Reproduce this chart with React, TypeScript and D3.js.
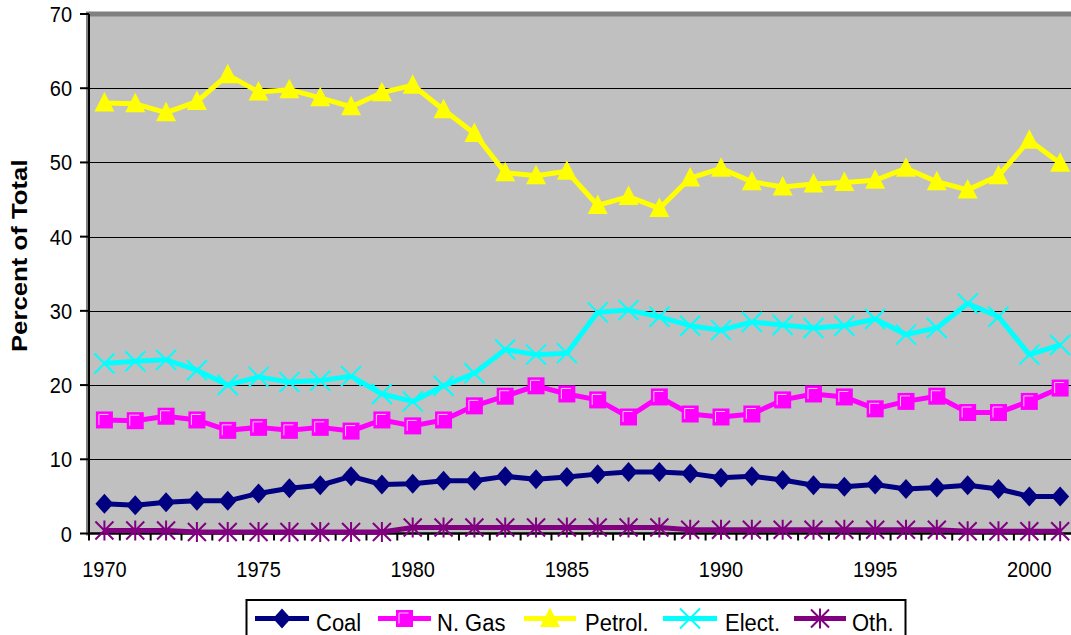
import React from "react";
import * as d3 from "d3";

// Share of total energy use by source, 1970–2001 (percent)
const years = [
  "1970", "1971", "1972", "1973", "1974", "1975", "1976", "1977", "1978", "1979",
  "1980", "1981", "1982", "1983", "1984", "1985", "1986", "1987", "1988", "1989",
  "1990", "1991", "1992", "1993", "1994", "1995", "1996", "1997", "1998", "1999",
  "2000", "2001",
];
const labeledYears = ["1970", "1975", "1980", "1985", "1990", "1995", "2000"];
const yTicks = [0, 10, 20, 30, 40, 50, 60, 70];

const coal = [4.0, 3.8, 4.2, 4.4, 4.4, 5.4, 6.1, 6.5, 7.7, 6.6, 6.7, 7.1, 7.1, 7.7, 7.3, 7.6, 8.0, 8.3, 8.3, 8.1, 7.5, 7.7, 7.2, 6.5, 6.3, 6.6, 6.0, 6.2, 6.5, 6.0, 5.0, 5.0];
const gas = [15.3, 15.2, 15.8, 15.3, 13.9, 14.3, 13.9, 14.3, 13.8, 15.3, 14.5, 15.3, 17.2, 18.5, 19.9, 18.8, 18.0, 15.7, 18.4, 16.1, 15.7, 16.1, 18.0, 18.8, 18.4, 16.8, 17.8, 18.5, 16.3, 16.3, 17.8, 19.6];
const petrol = [58.0, 57.9, 56.7, 58.2, 61.8, 59.5, 59.8, 58.7, 57.5, 59.4, 60.4, 57.1, 53.9, 48.6, 48.2, 48.8, 44.2, 45.4, 43.8, 47.9, 49.2, 47.4, 46.7, 47.1, 47.3, 47.6, 49.2, 47.4, 46.3, 48.2, 53.0, 49.9];
const elect = [22.9, 23.2, 23.4, 22.0, 20.0, 21.1, 20.4, 20.6, 21.2, 18.8, 17.8, 19.9, 21.6, 24.8, 24.1, 24.3, 29.8, 30.1, 29.2, 28.0, 27.4, 28.5, 28.1, 27.7, 28.0, 28.9, 26.8, 27.7, 31.0, 29.2, 24.1, 25.4];
const other = [0.4, 0.4, 0.4, 0.2, 0.2, 0.2, 0.2, 0.2, 0.2, 0.2, 0.8, 0.8, 0.8, 0.8, 0.8, 0.8, 0.8, 0.8, 0.8, 0.5, 0.5, 0.5, 0.5, 0.5, 0.5, 0.5, 0.5, 0.5, 0.3, 0.3, 0.3, 0.3];

type MarkerKind = "diamond" | "square" | "triangle" | "cross" | "star";
const seriesNames = ["Coal", "N. Gas", "Petrol.", "Elect.", "Oth."];
const seriesValues = [coal, gas, petrol, elect, other];
const seriesColors = ["#000080", "#FF00FF", "#FFFF00", "#00FFFF", "#800080"];
const seriesMarkers: MarkerKind[] = ["diamond", "square", "triangle", "cross", "star"];

const W = 1071;
const H = 635;
const FONT = "'Liberation Sans', Arial, Helvetica, sans-serif";
const STRETCH = 1.12; // text is drawn slightly taller than wide

const plotLeft = 89;
const plotTop = 14;
const plotBottom = 533.5;
const band = 30.83;

const x = d3
  .scaleBand<string>()
  .domain(years)
  .range([plotLeft, plotLeft + band * years.length])
  .padding(0);
const cx = (yr: string) => (x(yr) as number) + x.bandwidth() / 2;
const y = d3.scaleLinear().domain([0, 70]).range([plotBottom, plotTop]);

function Marker({ kind, color, px, py }: { kind: MarkerKind; color: string; px: number; py: number }) {
  const t = `translate(${px},${py})`;
  switch (kind) {
    case "diamond":
      return <path transform={t} d="M0,-10 L9,0 L0,10 L-9,0 Z" fill={color} />;
    case "square":
      return (
        <g transform={t}>
          <rect x={-8.5} y={-8.5} width={17} height={17} fill={color} />
          <path d="M-5.5,5 V-5.5 H4" fill="none" stroke="#FFC8FF" strokeWidth={1} />
        </g>
      );
    case "triangle":
      return <path transform={t} d="M0,-11 L10,8.5 L-10,8.5 Z" fill={color} />;
    case "cross":
      return (
        <path transform={t} d="M-10,-10 L10,10 M-10,10 L10,-10" stroke={color} strokeWidth={2} fill="none" />
      );
    case "star":
      return (
        <path
          transform={t}
          d="M-9,-9 L9,9 M-9,9 L9,-9 M0,-10 L0,10"
          stroke={color}
          strokeWidth={2}
          fill="none"
        />
      );
  }
}

function Label({
  x: tx,
  y: ty,
  size,
  anchor,
  children,
}: {
  x: number;
  y: number;
  size: number;
  anchor?: "start" | "middle" | "end";
  children: React.ReactNode;
}) {
  return (
    <text
      transform={`translate(${tx},${ty}) scale(1,${STRETCH})`}
      textAnchor={anchor ?? "start"}
      fontSize={size}
      fill="#000"
    >
      {children}
    </text>
  );
}

export default function App() {
  const line = d3
    .line<number>()
    .x((_, i) => cx(years[i]))
    .y((v) => y(v));

  const plotRight = W + 20;

  // legend geometry
  const legend = [
    { x1: 255, x2: 309, tx: 316 },
    { x1: 378, x2: 431, tx: 437 },
    { x1: 524, x2: 576, tx: 585 },
    { x1: 663, x2: 717, tx: 725 },
    { x1: 794, x2: 846, tx: 852 },
  ];
  const legendY = 618.5;

  return (
    <svg
      width={W}
      height={H}
      viewBox={`0 0 ${W} ${H}`}
      style={{ position: "absolute", left: 0, top: 0, background: "#FFFFFF", overflow: "hidden" }}
      fontFamily={FONT}
    >
      {/* plot area */}
      <rect x={plotLeft} y={plotTop} width={plotRight - plotLeft} height={plotBottom - plotTop} fill="#C0C0C0" />
      <line x1={plotLeft} x2={plotRight} y1={plotTop} y2={plotTop} stroke="#808080" strokeWidth={5} />
      <line x1={plotLeft - 1} x2={plotLeft - 1} y1={plotTop - 2.5} y2={plotBottom + 2} stroke="#808080" strokeWidth={4} />

      {/* horizontal gridlines */}
      {yTicks
        .filter((v) => v > 0 && v < 70)
        .map((v) => (
          <line key={v} x1={plotLeft} x2={plotRight} y1={Math.round(y(v)) + 0.5} y2={Math.round(y(v)) + 0.5} stroke="#000" strokeWidth={1} />
        ))}

      {/* value axis */}
      <line x1={plotLeft} x2={plotLeft} y1={plotTop} y2={plotBottom + 1} stroke="#000" strokeWidth={2} />
      {yTicks.map((v) => (
        <g key={v}>
          <line x1={plotLeft - 9} x2={plotLeft} y1={y(v)} y2={y(v)} stroke="#000" strokeWidth={2} />
          <Label x={72} y={y(v) + 8} size={20} anchor="end">
            {v}
          </Label>
        </g>
      ))}
      <text
        transform={`translate(27,${(plotTop + plotBottom) / 2 - 18}) rotate(-90) scale(${STRETCH},1)`}
        textAnchor="middle"
        fontSize={23}
        fontWeight="bold"
        fill="#000"
      >
        Percent of Total
      </text>

      {/* category axis */}
      <line x1={plotLeft - 1} x2={plotRight} y1={plotBottom} y2={plotBottom} stroke="#000" strokeWidth={2.5} />
      {years.map((yr) => (
        <line
          key={yr}
          x1={x(yr) as number}
          x2={x(yr) as number}
          y1={plotBottom}
          y2={plotBottom + 7}
          stroke="#000"
          strokeWidth={2}
        />
      ))}
      {labeledYears.map((yr) => (
        <Label key={yr} x={cx(yr)} y={577} size={20} anchor="middle">
          {yr}
        </Label>
      ))}

      {/* series */}
      {seriesValues.map((vals, si) => (
        <g key={seriesNames[si]}>
          <path d={line(vals) ?? ""} fill="none" stroke={seriesColors[si]} strokeWidth={5} strokeLinejoin="round" />
          {vals.map((v, i) => (
            <Marker key={i} kind={seriesMarkers[si]} color={seriesColors[si]} px={cx(years[i])} py={y(v)} />
          ))}
        </g>
      ))}

      {/* legend */}
      <rect x={246.5} y={600} width={659} height={60} fill="#FFFFFF" stroke="#000" strokeWidth={2} />
      {seriesNames.map((name, si) => {
        const g = legend[si];
        return (
          <g key={name}>
            <line x1={g.x1} x2={g.x2} y1={legendY} y2={legendY} stroke={seriesColors[si]} strokeWidth={5} />
            <Marker kind={seriesMarkers[si]} color={seriesColors[si]} px={(g.x1 + g.x2) / 2} py={legendY} />
            <Label x={g.tx} y={631} size={22}>
              {name}
            </Label>
          </g>
        );
      })}
    </svg>
  );
}
